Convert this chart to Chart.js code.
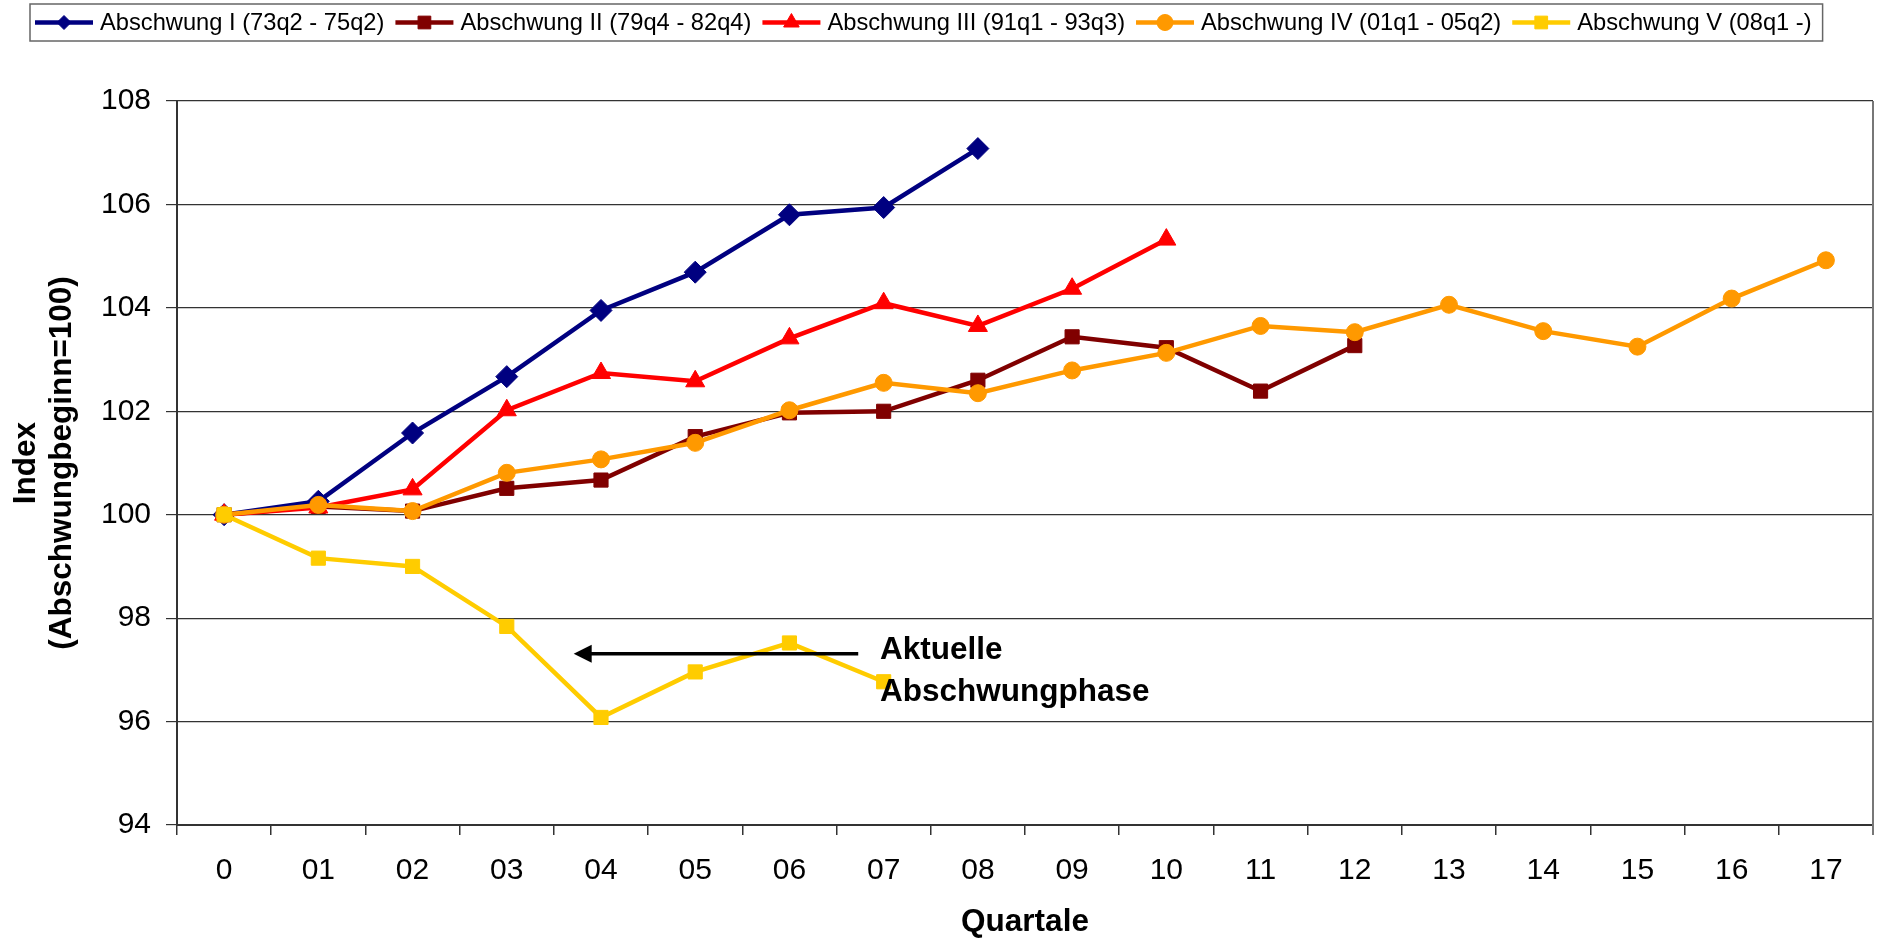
<!DOCTYPE html>
<html>
<head>
<meta charset="utf-8">
<script src="https://cdn.jsdelivr.net/npm/chart.js@4.4.0/dist/chart.umd.min.js"></script>
<style>
    html, body { margin: 0; padding: 0; background: #fff; }
    #wrap { width: 1885px; height: 941px; position: relative; }
</style>
</head>
<body>
<div id="wrap"><canvas id="line_chart"></canvas></div>
<script>
// data
var quarters = ['0', '01', '02', '03', '04', '05', '06', '07', '08', '09', '10', '11', '12', '13', '14', '15', '16', '17'];
var seriesNames = ['Abschwung I (73q2 - 75q2)', 'Abschwung II (79q4 - 82q4)', 'Abschwung III (91q1 - 93q3)', 'Abschwung IV (01q1 - 05q2)', 'Abschwung V (08q1 -)'];
var abschwung1 = [100, 100.26, 101.58, 102.67, 103.95, 104.69, 105.80, 105.94, 107.08];
var abschwung2 = [100, 100.16, 100.07, 100.51, 100.67, 101.51, 101.97, 102.00, 102.60, 103.44, 103.23, 102.39, 103.27];
var abschwung3 = [100, 100.14, 100.49, 102.02, 102.74, 102.58, 103.41, 104.09, 103.65, 104.37, 105.32];
var abschwung4 = [100, 100.19, 100.07, 100.81, 101.07, 101.39, 102.02, 102.55, 102.35, 102.79, 103.13, 103.65, 103.53, 104.06, 103.55, 103.25, 104.18, 104.92];
var abschwung5 = [100, 99.16, 99.00, 97.84, 96.08, 96.96, 97.52, 96.77];
var yMin = 94, yMax = 108, yStep = 2;
var yTitle = ['Index', '(Abschwungbeginn=100)'];
var xTitle = 'Quartale';
var noteLines = ['Aktuelle', 'Abschwungphase'];

var FONT = '"Liberation Sans", Arial, Helvetica, sans-serif';
var colors = ['#000080', '#800000', '#FF0000', '#FF9900', '#FFCC00'];
var styles = ['rectRot', 'rect', 'triangle', 'circle', 'rect'];
var radii = [11, 10, 11, 8.5, 10];
var legendRadii = [7, 9, 9, 8, 9];

function makeSet(i, values) {
    return {
        label: seriesNames[i],
        data: values,
        borderColor: colors[i],
        backgroundColor: colors[i],
        borderWidth: 4.5,
        pointStyle: styles[i],
        pointRadius: radii[i],
        pointBorderWidth: 1,
        pointBorderColor: colors[i],
        pointBackgroundColor: colors[i],
        tension: 0,
        fill: false,
        order: 5 - i
    };
}

function marker(ctx, style, r, x, y) {
    if (Chart.helpers && Chart.helpers.drawPoint) {
        Chart.helpers.drawPoint(ctx, { pointStyle: style, radius: r, borderWidth: 1, rotation: 0 }, x, y);
    } else {
        ctx.beginPath();
        ctx.arc(x, y, r, 0, Math.PI * 2);
        ctx.fill();
    }
}

// legend with line + marker, framed like the Excel one
var legendBox = {
    id: 'legendBox',
    afterDraw: function (chart) {
        var ctx = chart.ctx;
        var sets = chart.data.datasets;
        var x = 35, y = 22.5, lineLen = 58;
        ctx.save();
        ctx.font = '23.7px ' + FONT;
        ctx.textBaseline = 'middle';
        ctx.textAlign = 'left';
        for (var i = 0; i < sets.length; i++) {
            ctx.strokeStyle = colors[i];
            ctx.fillStyle = colors[i];
            ctx.lineWidth = 4.5;
            ctx.beginPath();
            ctx.moveTo(x, y);
            ctx.lineTo(x + lineLen, y);
            ctx.stroke();
            ctx.lineWidth = 1;
            marker(ctx, styles[i], legendRadii[i], x + lineLen / 2, y);
            x += lineLen + 7;
            ctx.fillStyle = '#000';
            ctx.fillText(sets[i].label, x, y + 1);
            x += ctx.measureText(sets[i].label).width + 11;
        }
        ctx.strokeStyle = '#666';
        ctx.lineWidth = 1.5;
        ctx.strokeRect(30, 4, x - 30, 37);
        ctx.restore();
    }
};

// right border of the plot area
var frame = {
    id: 'frame',
    afterDraw: function (chart) {
        var a = chart.chartArea, ctx = chart.ctx;
        ctx.save();
        ctx.strokeStyle = '#777';
        ctx.lineWidth = 2;
        ctx.beginPath();
        ctx.moveTo(a.right, a.top);
        ctx.lineTo(a.right, a.bottom + 10);
        ctx.stroke();
        ctx.restore();
    }
};

// arrow and note for the current downturn
var note = {
    id: 'note',
    afterDraw: function (chart) {
        var xs = chart.scales.x, ys = chart.scales.y, ctx = chart.ctx;
        var x1 = xs.getPixelForValue(6.73), x2 = xs.getPixelForValue(3.71), y = ys.getPixelForValue(97.31);
        ctx.save();
        ctx.strokeStyle = '#000';
        ctx.fillStyle = '#000';
        ctx.lineWidth = 3.5;
        ctx.beginPath();
        ctx.moveTo(x1, y);
        ctx.lineTo(x2 + 12, y);
        ctx.stroke();
        ctx.beginPath();
        ctx.moveTo(x2, y);
        ctx.lineTo(x2 + 18, y - 9);
        ctx.lineTo(x2 + 18, y + 9);
        ctx.closePath();
        ctx.fill();
        ctx.font = 'bold 31.5px ' + FONT;
        ctx.textBaseline = 'middle';
        ctx.textAlign = 'left';
        var tx = xs.getPixelForValue(6.96);
        ctx.fillText(noteLines[0], tx, ys.getPixelForValue(97.37));
        ctx.fillText(noteLines[1], tx, ys.getPixelForValue(96.57));
        ctx.restore();
    }
};

new Chart(document.getElementById('line_chart').getContext('2d'), {
    type: 'line',
    data: {
        labels: quarters,
        datasets: [
            makeSet(0, abschwung1),
            makeSet(1, abschwung2),
            makeSet(2, abschwung3),
            makeSet(3, abschwung4),
            makeSet(4, abschwung5)
        ]
    },
    options: {
        responsive: true,
        maintainAspectRatio: false,
        animation: false,
        events: [],
        layout: { padding: { top: 101, right: 6, left: 0, bottom: 0 } },
        plugins: {
            legend: { display: false },
            tooltip: { enabled: false }
        },
        scales: {
            x: {
                offset: true,
                grid: { offset: true, drawOnChartArea: false, drawTicks: true, tickLength: 10, color: '#333', lineWidth: 1.5 },
                border: { color: '#333', width: 2 },
                ticks: { color: '#000', font: { family: FONT, size: 30 }, padding: 18, maxRotation: 0, autoSkip: false },
                title: { display: true, text: xTitle, color: '#000', font: { family: FONT, size: 31.5, weight: 'bold', lineHeight: 1.143 }, padding: { top: 0, bottom: 1 } },
                afterFit: function (scale) { scale.height = 116; }
            },
            y: {
                min: yMin,
                max: yMax,
                grid: { color: '#333', lineWidth: 1.2, tickLength: 11 },
                border: { color: '#333', width: 2 },
                ticks: { stepSize: yStep, color: '#000', font: { family: FONT, size: 30 }, padding: 15 },
                title: { display: true, text: yTitle, color: '#000', font: { family: FONT, size: 31.5, weight: 'bold', lineHeight: 1.143 }, padding: { top: 8, bottom: 0 } },
                afterFit: function (scale) { scale.width = 177; }
            }
        }
    },
    plugins: [legendBox, frame, note]
});
</script>
</body>
</html>
